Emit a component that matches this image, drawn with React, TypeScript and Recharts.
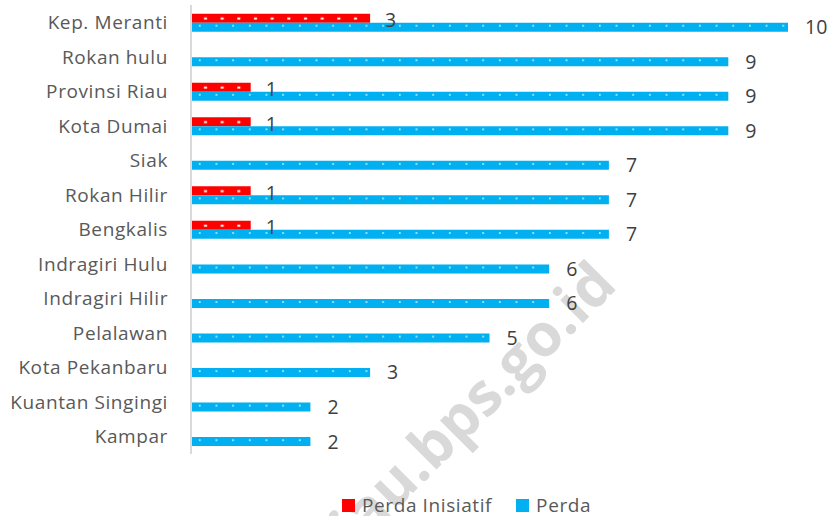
import { BarChart, Bar, XAxis, YAxis, LabelList } from "recharts";

const REGIONS = [
  "Kep. Meranti",
  "Rokan hulu",
  "Provinsi Riau",
  "Kota Dumai",
  "Siak",
  "Rokan Hilir",
  "Bengkalis",
  "Indragiri Hulu",
  "Indragiri Hilir",
  "Pelalawan",
  "Kota Pekanbaru",
  "Kuantan Singingi",
  "Kampar",
];
const PERDA_INISIATIF: (number | null)[] = [3, null, 1, 1, null, 1, 1, null, null, null, null, null, null];
const PERDA = [10, 9, 9, 9, 7, 7, 7, 6, 6, 5, 3, 2, 2];

const RED = "#ff0000";
const BLUE = "#00b0f0";
const FONT = "'Open Sans', sans-serif";

const data = REGIONS.map((name, i) => ({
  name,
  inisiatif: PERDA_INISIATIF[i],
  perda: PERDA[i],
}));

const W = 832;
const H = 516;
const TOP = 5;
const BOTTOM = 62;
const BAND = (H - TOP - BOTTOM) / REGIONS.length;

export default function App() {
  return (
    <div style={{ position: "absolute", left: 0, top: 0, width: W, height: H, background: "#fff", fontFamily: FONT, overflow: "hidden" }}>
      {/* watermark sits behind the chart */}
      <svg width={W} height={H} style={{ position: "absolute", left: 0, top: 0 }}>
        <text
          x={619}
          y={287}
          textAnchor="end"
          transform="rotate(-45 619 287)"
          fontFamily={FONT}
          fontWeight={700}
          fontSize={59}
          fill="#d9d9d9"
        >
          riau.bps.go.id
        </text>
      </svg>
      <div style={{ position: "absolute", left: 0, top: 0 }}>
        <BarChart
          width={W}
          height={H}
          data={data}
          layout="vertical"
          margin={{ top: TOP, right: 44, bottom: BOTTOM, left: 0 }}
          barCategoryGap="25%"
          barGap={0}
        >
          <defs>
            <pattern id="dotRed" patternUnits="userSpaceOnUse" x={197} y={TOP} width={16.67} height={BAND}>
              <rect x={0} y={0} width={16.67} height={BAND} fill={RED} />
              <rect x={7} y={12.5} width={3} height={2} fill="#fff" />
            </pattern>
            <pattern id="dotBlue" patternUnits="userSpaceOnUse" x={192} y={TOP} width={16.67} height={BAND}>
              <rect x={0} y={0} width={16.67} height={BAND} fill={BLUE} />
              <rect x={7} y={20} width={1.5} height={1.5} fill="#fff" />
            </pattern>
          </defs>
          <XAxis type="number" domain={[0, 10]} hide />
          <YAxis
            type="category"
            dataKey="name"
            width={191}
            tickLine={false}
            tickMargin={17}
            axisLine={{ stroke: "#d9d9d9", strokeWidth: 2 }}
            tick={{ fill: "#595959", fontSize: 19, fontFamily: FONT, letterSpacing: 0.6 }}
            interval={0}
          />
          <Bar dataKey="inisiatif" fill="url(#dotRed)" isAnimationActive={false}>
            <LabelList dataKey="inisiatif" position="right" offset={15} dy={2} fill="#404040" fontSize={19.5} fontFamily={FONT} />
          </Bar>
          <Bar dataKey="perda" fill="url(#dotBlue)" isAnimationActive={false}>
            <LabelList dataKey="perda" position="right" offset={17} fill="#404040" fontSize={19.5} fontFamily={FONT} />
          </Bar>
        </BarChart>
      </div>
      <div
        style={{
          position: "absolute",
          top: 495,
          left: 342,
          display: "flex",
          alignItems: "center",
          gap: 7,
          fontSize: 19,
          letterSpacing: 0.6,
          color: "#595959",
          lineHeight: "20px",
        }}
      >
        <span style={{ width: 13, height: 13, background: RED, display: "inline-block" }} />
        <span style={{ marginRight: 17 }}>Perda Inisiatif</span>
        <span style={{ width: 13, height: 13, background: BLUE, display: "inline-block" }} />
        <span>Perda</span>
      </div>
    </div>
  );
}
